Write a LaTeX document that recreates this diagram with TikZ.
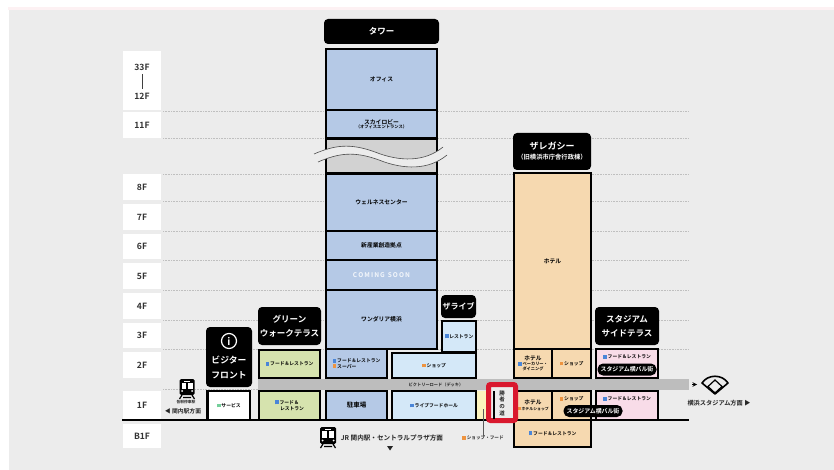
\documentclass[tikz,border=0pt]{standalone}
\usepackage{fontspec}
\setmainfont{Noto Sans CJK JP}[BoldFont={Noto Sans CJK JP Bold}]
\usetikzlibrary{calc}
\definecolor{bgg}{HTML}{ECECEC}
\definecolor{pinkline}{HTML}{FDF1F3}
\definecolor{tower}{HTML}{B5C9E6}
\definecolor{sky}{HTML}{D4E8F8}
\definecolor{greenb}{HTML}{D6E3AE}
\definecolor{hotel}{HTML}{F6D9B0}
\definecolor{pinkb}{HTML}{F8DCE8}
\definecolor{yel}{HTML}{FBF3BE}
\definecolor{road}{HTML}{BDBDBD}
\definecolor{gapg}{HTML}{D2D2D2}
\definecolor{bl}{HTML}{4A86D8}
\definecolor{org}{HTML}{EE9440}
\definecolor{grn}{HTML}{74CF9A}
\definecolor{redb}{HTML}{D9182E}
\newcommand{\bul}[1]{\textcolor{#1}{\rule{3.8pt}{3.8pt}}\,}
\newcommand{\lab}{\fontsize{5.8}{7}\selectfont}
\newcommand{\upt}[1]{\raisebox{5pt}[0pt][0pt]{#1}}
\newcommand{\bx}[7][]{%
  \pgfmathsetmacro{\bbw}{#4-#2}\pgfmathsetmacro{\bbh}{#5-#3}%
  \pgfmathsetmacro{\cxx}{(#2+#4)/2}\pgfmathsetmacro{\cyy}{(#3+#5)/2}%
  \node[cell,fill=#6,minimum width=\bbw pt,minimum height=\bbh pt,#1] at (\cxx,\cyy) {#7};}
\newcommand{\ttl}[7][]{%
  \pgfmathsetmacro{\bbw}{#4-#2}\pgfmathsetmacro{\bbh}{#5-#3}%
  \pgfmathsetmacro{\cxx}{(#2+#4)/2}\pgfmathsetmacro{\cyy}{(#3+#5)/2}%
  \node[titlebox,minimum width=\bbw pt,minimum height=\bbh pt,#1] (#6) at (\cxx,\cyy) {#7};}
\newcommand{\flr}[4]{%
  \pgfmathsetmacro{\bbh}{#3-#2}\pgfmathsetmacro{\cyy}{(#2+#3)/2}%
  \node[floorbox,minimum height=\bbh pt] (#1) at (142,\cyy) {#4};}
\tikzset{
  cell/.style={draw=black,line width=2.3pt,inner sep=0pt,align=center,font=\bfseries\fontsize{4.8}{6}\selectfont,text=black},
  titlebox/.style={fill=black,rounded corners=4pt,text=white,inner sep=0pt,align=center,font=\bfseries\fontsize{8.5}{14}\selectfont},
  floorbox/.style={fill=white,minimum width=38pt,inner sep=0pt,align=center,font=\bfseries\fontsize{8.6}{10}\selectfont,text=black!80},
  floorlabel/.style={inner sep=0pt,font=\bfseries\fontsize{8.6}{10}\selectfont,text=black!80},
  floordot/.style={draw=black!25,line width=.5pt,dash pattern=on .8pt off .8pt},
  pill/.style={fill=black,rounded corners=5.5pt,text=white,inner sep=0pt,minimum width=59pt,minimum height=12pt,font=\bfseries\fontsize{5.9}{6}\selectfont},
  note/.style={inner sep=0pt,align=center,font=\bfseries\fontsize{5}{6}\selectfont,text=black!85},
}
\begin{document}
\begin{tikzpicture}[x=1pt,y=-1pt]
\useasboundingbox (0,0) rectangle (834,470);
\fill[white] (0,0) rectangle (834,470);
\fill[pinkline] (8,7) rectangle (834,10);
\fill[bgg] (9,10) rectangle (834,470);
% floors
\flr{f33}{51}{110}{}
\node[floorlabel] (f33a) at (142,67) {33F};
\node[floorlabel] (f12a) at (142,96) {12F};
\draw[black!75,line width=1pt] (f33a) ++(0,7) -- ++(0,15);
\flr{f11}{112}{138}{11F}
\flr{f8}{174}{200}{8F}
\flr{f7}{204}{230}{7F}
\flr{f6}{234}{259}{6F}
\flr{f5}{263}{289}{5F}
\flr{f4}{293}{319}{4F}
\flr{f3}{323}{348}{3F}
\flr{f2}{352}{378}{2F}
\flr{f1}{391}{420}{1F}
\flr{fb}{424}{448}{B1F}
\foreach \yy in {111,138,174,201,231,260,290,320,349,389}
  \draw[floordot] (163,\yy) -- (689,\yy);
% road
\fill[road] (258,379) rectangle (689,390);
\node[note,font=\bfseries\fontsize{4.2}{5}\selectfont] (roadtext) at (436,384.5) {ビクトリーロード（デッキ）};
% tower
\ttl{324}{19}{439}{44}{tw}{タワー}
\bx{326}{49}{437}{110}{tower}{\lab オフィス}
\bx{326}{110}{437}{138.5}{tower}{\lab スカイロビー\\[-1.5pt]{\fontsize{4.3}{4.5}\selectfont （オフィスエントランス）}}
\bx{326}{138.5}{437}{173}{gapg}{}
\bx{326}{174}{437}{231}{tower}{\lab ウェルネスセンター}
\bx{326}{231}{437}{260}{tower}{\lab 新産業創造拠点}
\bx{326}{260}{437}{290}{tower}{\textcolor{white!85!tower}{\fontsize{6.5}{7}\selectfont C\,O\,M\,I\,N\,G\ \ S\,O\,O\,N}}
\bx{326}{290}{437}{349}{tower}{\lab ワンダリア横浜}
\bx[align=left]{326}{349}{387}{378}{tower}{\bul{bl}フード＆レストラン\\[-.5pt]\bul{org}スーパー}
% wave
\fill[bgg] (314,154) .. controls (335,145) and (350,143) .. (375,152) .. controls (400,162) and (425,162) .. (443,147) -- (447,155) .. controls (429,170) and (404,170) .. (379,160) .. controls (354,151) and (339,153) .. (318,162) -- cycle;
\draw[black!70,line width=.6pt] (314,154) .. controls (335,145) and (350,143) .. (375,152) .. controls (400,162) and (425,162) .. (443,147);
\draw[black!70,line width=.6pt] (318,162) .. controls (339,153) and (354,151) .. (379,160) .. controls (404,170) and (429,170) .. (447,155);
% live
\ttl[font=\bfseries\fontsize{8}{9}\selectfont]{441}{295}{476}{318}{lv}{ザライブ}
\bx{442}{321}{476}{352}{sky}{\bul{bl}レストラン}
\bx{392}{353}{476}{378}{sky}{\bul{org}ショップ}
\bx{392}{391}{476}{420}{sky}{\bul{bl}ライブフードホール}
\bx{326}{391}{387}{420}{tower}{{\fontsize{6.5}{7}\selectfont 駐車場}}
% yellow shop
\fill[yel] (477,391) rectangle (490,420);
% green
\ttl{258}{307}{321}{345}{gw}{グリーン\\ウォークテラス}
\bx{259}{350}{320}{378}{greenb}{\bul{bl}フード＆レストラン}
\bx[align=left]{259}{391}{320}{420}{greenb}{\bul{bl}フード＆\\\hspace*{5pt}レストラン}
% visitor
\ttl[font=\bfseries\fontsize{8.8}{15}\selectfont]{206}{327}{252}{387}{vf}{\\[13pt]ビジター\\フロント}
\draw[white,line width=1.2pt] (vf.center)++(0,-16) circle (7.5pt);
\node[text=white,inner sep=0pt,font=\bfseries\fontsize{10}{10}\selectfont] (infoi) at ($(vf.center)+(0,-16)$) {i};
\bx{207.5}{391}{250}{420}{white}{\bul{grn}サービス}
% legacy
\ttl[font=\bfseries\fontsize{9}{13}\selectfont]{513}{133}{591}{170}{lg}{ザレガシー\\[-3pt]{\fontsize{6.3}{8}\selectfont （旧横浜市庁舎行政棟）}}
\bx{514}{173}{591}{349}{hotel}{\lab ホテル}
\bx{514}{349}{552}{378}{hotel}{{\fontsize{5.7}{7}\selectfont ホテル}\\[-1pt]{\fontsize{4.2}{5}\selectfont\bul{bl}ベーカリー・}\\[-1pt]{\fontsize{4.2}{5}\selectfont ダイニング}}
\bx{552}{349}{591}{378}{hotel}{\bul{org}ショップ}
\bx{514}{391}{552}{420}{hotel}{{\fontsize{5.7}{7}\selectfont ホテル}\\[-.5pt]{\fontsize{3.9}{5}\selectfont\bul{org}ホテルショップ}}
\bx{552}{391}{591}{420}{hotel}{\upt{\bul{org}ショップ}}
\bx{514}{420}{591}{447}{hotel}{\bul{bl}フード＆レストラン}
% stadium
\ttl{595}{307}{659}{345}{st}{スタジアム\\サイドテラス}
\bx{596}{349}{658}{378}{pinkb}{\upt{\bul{bl}フード＆レストラン}}
\bx{596}{391}{658}{420}{pinkb}{\upt{\bul{bl}フード＆レストラン}}
% ground line
\draw[black,line width=2.3pt] (122,420) -- (689,420);
% pills
\node[pill] (p1) at (627,369.5) {スタジアム横バル街};
\node[pill] (p2) at (593,411) {スタジアム横バル街};
% red highlight
\node[draw=redb,line width=5pt,fill=bgg,rounded corners=2pt,inner sep=0pt,minimum width=27pt,minimum height=36pt] (kn) at (502,402.5) {};
\draw[black,line width=1.5pt] (494,391) -- (494,419);
\node[inner sep=0pt,align=center,font=\bfseries\fontsize{5.5}{6.6}\selectfont,text=black!85] (kt) at (502,403) {勝\\者\\の\\道};
% shop-food
\coordinate (leadtop) at (483,409);
\node[note,font=\bfseries\fontsize{4.6}{6}\selectfont] (sf) at (483,438) {\bul{org}ショップ・フード};
\draw[black!65,line width=.5pt] (leadtop) -- (sf.north);
% left train
\begin{scope}[shift={(187,389)}]
\fill[black,rounded corners=1.5pt] (-7.5,-10) rectangle (7.5,6);
\fill[white] (-5.5,-6) rectangle (-.6,-.5);
\fill[white] (.6,-6) rectangle (5.5,-.5);
\fill[white] (-3,-8.5) rectangle (3,-7.4);
\fill[white] (-5,2) circle (1); \fill[white] (5,2) circle (1);
\draw[black,line width=1.2pt] (-5,6) -- (-7.5,10) (5,6) -- (7.5,10) (-4,8.5) -- (4,8.5);
\end{scope}
\node[note,font=\bfseries\fontsize{3.8}{4}\selectfont] (lt1) at (186,402.5) {各駅停車駅};
\node[note,font=\bfseries\fontsize{5.8}{7}\selectfont] (lt2) at (183,411) {◀ 関内駅方面};
% JR train
\begin{scope}[shift={(328,437)}]
\fill[black,rounded corners=1.5pt] (-8,-10) rectangle (8,7);
\fill[white] (-6,-6) rectangle (-.6,.5);
\fill[white] (.6,-6) rectangle (6,.5);
\fill[white] (-3,-8.5) rectangle (3,-7.4);
\fill[white] (-5.5,3.5) circle (1); \fill[white] (5.5,3.5) circle (1);
\draw[black,line width=1.2pt] (-5,7) -- (-7.5,11) (5,7) -- (7.5,11) (-4,9.5) -- (4,9.5);
\end{scope}
\node[note,font=\bfseries\fontsize{6.6}{8}\selectfont] (jr) at (392,438) {JR 関内駅・セントラルプラザ方面};
\fill[black!85] (387,446) -- (393,446) -- (390,450.5) -- cycle;
% stadium icon
\coordinate (arrowa) at (692,384.5);
\coordinate (arrowb) at (697,384.5);
\draw[-stealth,black,line width=1pt] (arrowa) -- (arrowb);
\draw[black,line width=1.6pt,line join=round] (702,383) .. controls (708,374) and (722,374) .. (728,383) -- (715,394) -- cycle;
\draw[black,line width=1.2pt] (715,380) -- (722,386.5) -- (715,393) -- (708,386.5) -- cycle;
\node[note,font=\bfseries\fontsize{6.2}{7}\selectfont] (ys) at (719,403.5) {横浜スタジアム方面 ▶};
\end{tikzpicture}
\end{document}
